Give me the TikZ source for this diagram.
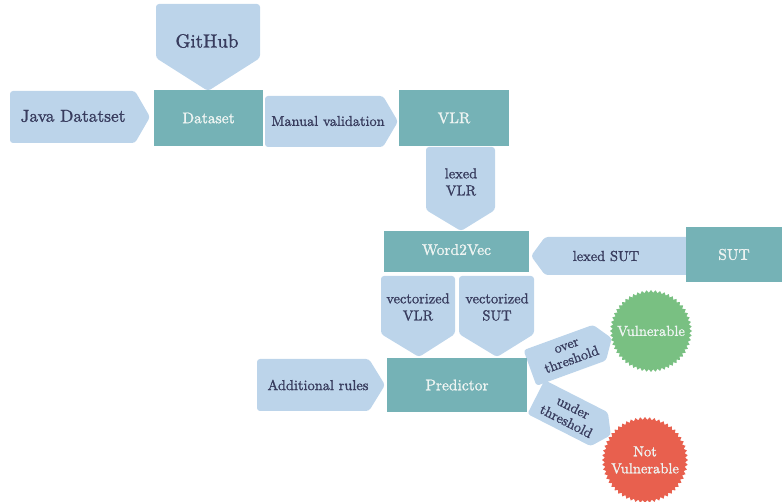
\documentclass[tikz,border=0pt]{standalone}
\usepackage{fontspec}
\newfontfamily\semib{lmroman10-regular}[Extension=.otf, FakeBold=1.3]
\usetikzlibrary{shapes.geometric}
\definecolor{boxteal}{HTML}{75B2B6}
\definecolor{chevblue}{HTML}{BCD4EA}
\definecolor{txtnavy}{HTML}{383C5E}
\definecolor{boxtxt}{HTML}{EEF4F2}
\definecolor{vgreen}{HTML}{79C082}
\definecolor{vred}{HTML}{E8604E}
\begin{document}
\begin{tikzpicture}[x=1pt,y=-1pt,
  box/.style={fill=boxteal, inner sep=0pt, text=boxtxt, font=\semib\fontsize{15.5}{18}\selectfont},
  chev/.style={fill=chevblue, rounded corners=3pt},
  lab/.style={text=txtnavy, align=center, inner sep=0pt, font=\semib\fontsize{14.4}{17}\selectfont},
  burst/.style={star, star points=56, star point ratio=1.07, inner sep=0pt},
  bursttxt/.style={text=boxtxt, align=center, inner sep=0pt, font=\semib\fontsize{14.5}{17}\selectfont}]
\useasboundingbox (0,0) rectangle (782,502);

% chevrons (connectors)
\fill[chev] (156,4) -- (260,4) -- (260,58) -- (208,91) -- (156,58) -- cycle;
\node[lab, font=\semib\fontsize{19}{21}\selectfont] (github) at (207,41) {GitHub};

\fill[chev] (10,91) -- (135,91) -- (150,117) -- (135,143) -- (10,143) -- cycle;
\node[lab, font=\semib\fontsize{17.3}{20}\selectfont] (java) at (73,116) {Java Datatset};

\fill[chev] (265,96) -- (383,96) -- (398,121.5) -- (383,147) -- (265,147) -- cycle;
\node[lab, font=\semib\fontsize{14.3}{16}\selectfont] (manual) at (328,121) {Manual validation};

\fill[chev] (426,147) -- (495,147) -- (495,210) -- (461,231) -- (426,210) -- cycle;
\node[lab] (lexvlr) at (461,182) {lexed\\VLR};

\fill[chev] (690,237) -- (545,237) -- (531,256) -- (545,275) -- (690,275) -- cycle;
\node[lab] (lexsut) at (606,256) {lexed SUT};

\fill[chev] (381,276) -- (455,276) -- (455,334) -- (419,357) -- (381,334) -- cycle;
\node[lab] (vecvlr) at (418,307) {vectorized\\VLR};

\fill[chev] (459,276) -- (534,276) -- (534,334) -- (497,357) -- (459,334) -- cycle;
\node[lab] (vecsut) at (497,307) {vectorized\\SUT};

\fill[chev] (257,359) -- (369,359) -- (385,385) -- (369,411) -- (257,411) -- cycle;
\node[lab] (addrules) at (318,385) {Additional rules};

\begin{scope}[shift={(530,368)}, rotate=20]
  \fill[chev] (0,-19) -- (74,-19) -- (87,0) -- (74,19) -- (0,19) -- cycle;
  \node[lab, rotate=20, font=\semib\fontsize{14}{15.5}\selectfont] (over) at (42,0) {over\\threshold};
\end{scope}
\begin{scope}[shift={(536,397)}, rotate=-27]
  \fill[chev] (0,-19) -- (71,-19) -- (84,0) -- (71,19) -- (0,19) -- cycle;
  \node[lab, rotate=-27, font=\semib\fontsize{14}{15.5}\selectfont] (under) at (38,0) {under\\threshold};
\end{scope}

% boxes
\node[box, minimum width=109pt, minimum height=56pt] (dataset) at (208.5,118) {Dataset};
\node[box, minimum width=110pt, minimum height=56pt] (vlr) at (454,118) {VLR};
\node[box, minimum width=145pt, minimum height=41pt, text depth=4pt] (word2vec) at (456.5,251.5) {Word2Vec};
\node[box, minimum width=96pt, minimum height=55pt] (sut) at (734,254.5) {SUT};
\node[box, minimum width=140pt, minimum height=54pt] (predictor) at (457,385) {Predictor};

% results
\node[burst, fill=vgreen, minimum size=82pt, label={[bursttxt]center:Vulnerable}] (vuln) at (651,331) {};
\node[burst, fill=vred, minimum size=86pt, label={[bursttxt]center:{Not\\Vulnerable}}] (notvuln) at (645,460) {};
\end{tikzpicture}
\end{document}
